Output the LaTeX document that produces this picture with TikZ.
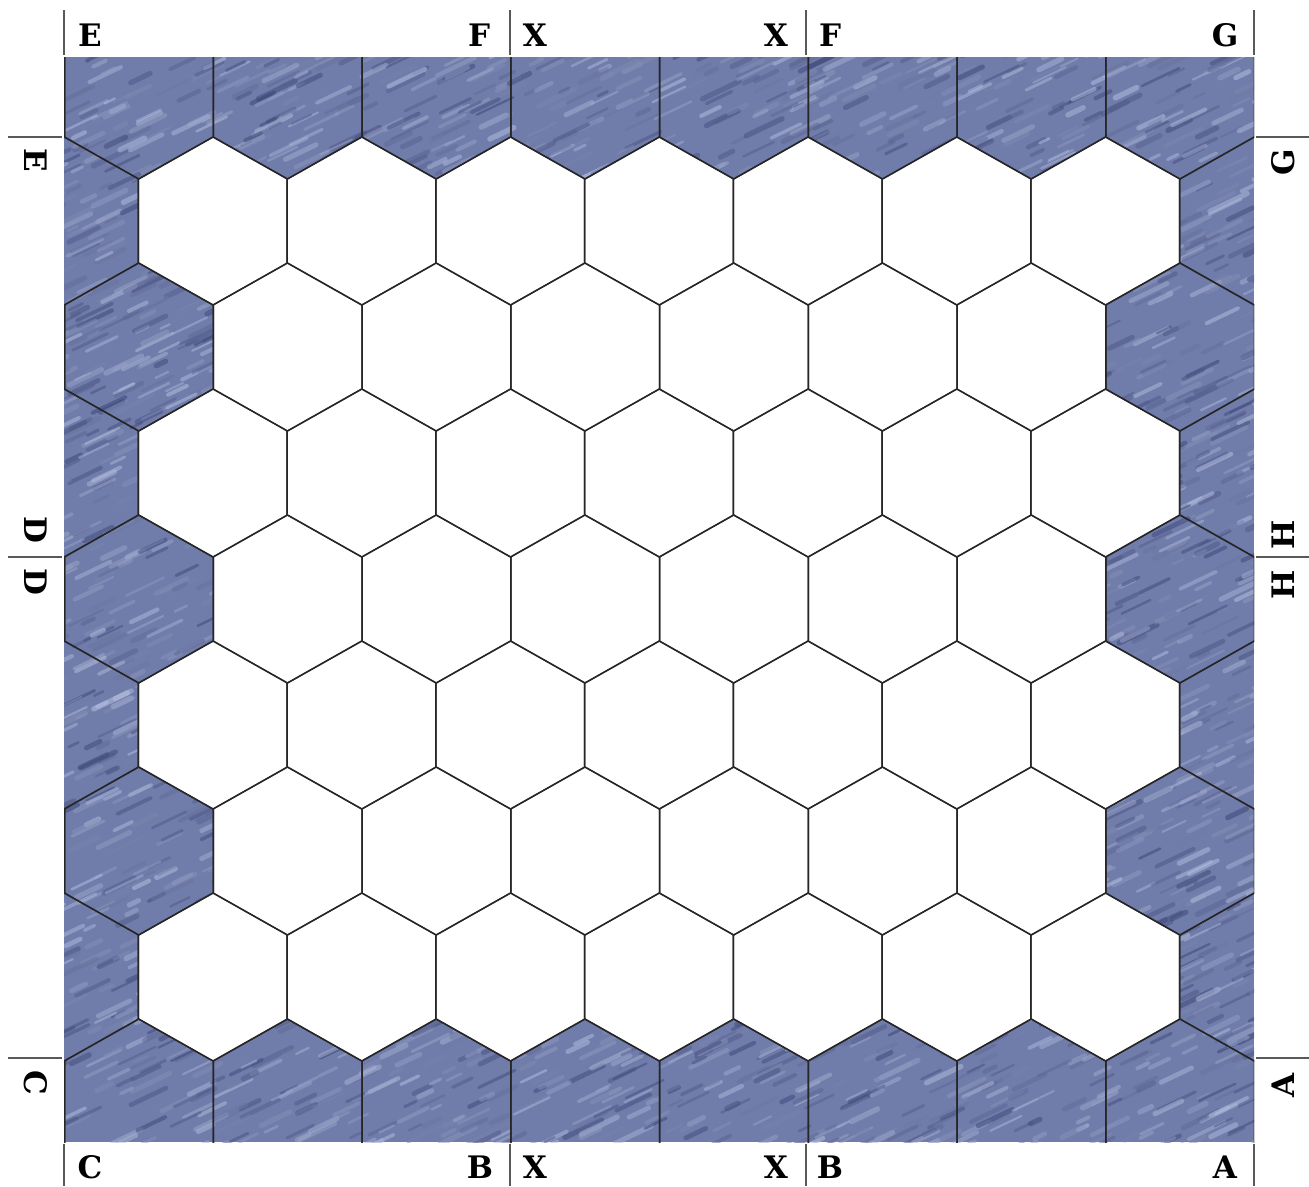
\documentclass[tikz,border=0pt]{standalone}
\usepackage{fontspec}
\newfontfamily\tagfont{DejaVu Serif}
\usepackage{tikz}

\definecolor{waterbase}{RGB}{112,124,170}
\definecolor{wavelight}{RGB}{188,198,230}
\definecolor{wavedark}{RGB}{58,68,118}

\begin{document}
\begin{tikzpicture}[x=1pt, y=-1pt,
  hexline/.style={draw=black!85, line width=1.3pt},
  land/.style={fill=white},
  tick/.style={draw=black!65, line width=1.6pt},
  tag/.style={font=\tagfont\bfseries\fontsize{31}{31}\selectfont, inner sep=0pt}]
  \useasboundingbox (0,0) rectangle (1309,1186);
  % board: water, land hexes and the grid
  \begin{scope}
    \clip (64,57) rectangle (1254,1142);
    \fill[waterbase] (64,57) rectangle (1254,1142);
    \pgfmathsetseed{11}
    \foreach \i in {1,...,4500}{
      \pgfmathsetmacro{\sx}{40+1230*rnd}
      \pgfmathsetmacro{\sy}{50+1110*rnd}
      \pgfmathsetmacro{\sl}{10+32*rnd}
      \pgfmathsetmacro{\sw}{2+3.5*rnd}
      \pgfmathtruncatemacro{\sp}{100*rnd}
      \draw[line width=\sw pt, line cap=round, draw=wavelight!\sp!wavedark, opacity=0.5]
        (\sx,\sy) -- ++(0.9*\sl,-0.43*\sl);
    }
    % land, odd rows
    \foreach \r in {1,3,5,7}{
      \foreach \k in {1,...,7}{
        \fill[land] (64+148.75*\k,95+126*\r) ++(0,-84) -- ++(74.375,42) -- ++(0,84)
          -- ++(-74.375,42) -- ++(-74.375,-42) -- ++(0,-84) -- cycle;
      }
    }
    % land, even rows
    \foreach \r in {2,4,6}{
      \foreach \k in {1,...,6}{
        \fill[land] (139+148.75*\k,95+126*\r) ++(0,-84) -- ++(74.375,42) -- ++(0,84)
          -- ++(-74.375,42) -- ++(-74.375,-42) -- ++(0,-84) -- cycle;
      }
    }
    % grid
    \foreach \r in {0,2,4,6,8}{
      \foreach \k in {-1,...,8}{
        \draw[hexline] (139+148.75*\k,95+126*\r) ++(0,-84) -- ++(74.375,42) -- ++(0,84)
          -- ++(-74.375,42) -- ++(-74.375,-42) -- ++(0,-84) -- cycle;
      }
    }
    \foreach \r in {1,3,5,7}{
      \foreach \k in {0,...,8}{
        \draw[hexline] (64+148.75*\k,95+126*\r) ++(0,-84) -- ++(74.375,42) -- ++(0,84)
          -- ++(-74.375,42) -- ++(-74.375,-42) -- ++(0,-84) -- cycle;
      }
    }
  \end{scope}
  % ticks
  \foreach \x in {64,510,806,1254}{
    \draw[tick] (\x,10) -- (\x,55);
    \draw[tick] (\x,1144) -- (\x,1186);
  }
  \foreach \y in {137,557,1058}{
    \draw[tick] (8,\y) -- (62,\y);
    \draw[tick] (1256,\y) -- (1309,\y);
  }
  % edge letters
  \node[tag] (tE) at (90,35) {E};
  \node[tag] (tF1) at (479,35) {F};
  \node[tag] (tX1) at (535,35) {X};
  \node[tag] (tX2) at (776,35) {X};
  \node[tag] (tF2) at (830,35) {F};
  \node[tag] (tG) at (1225,35) {G};
  \node[tag] (bC) at (90,1167) {C};
  \node[tag] (bB1) at (480,1167) {B};
  \node[tag] (bX1) at (535,1167) {X};
  \node[tag] (bX2) at (776,1167) {X};
  \node[tag] (bB2) at (830,1167) {B};
  \node[tag] (bA) at (1225,1167) {A};
  \node[tag, rotate=-90] (lE) at (36,160) {E};
  \node[tag, rotate=-90] (lD1) at (36,530) {D};
  \node[tag, rotate=-90] (lD2) at (36,582) {D};
  \node[tag, rotate=-90] (lC) at (36,1083) {C};
  \node[tag, rotate=90] (rG) at (1283,162) {G};
  \node[tag, rotate=90] (rH1) at (1283,535) {H};
  \node[tag, rotate=90] (rH2) at (1283,585) {H};
  \node[tag, rotate=90] (rA) at (1283,1085) {A};
\end{tikzpicture}
\end{document}
